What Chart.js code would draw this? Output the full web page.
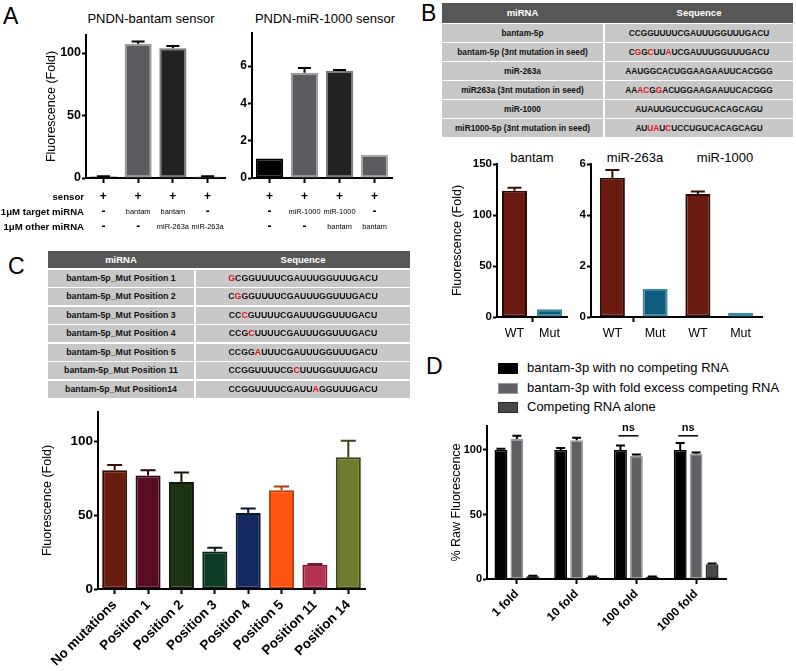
<!DOCTYPE html>
<html><head><meta charset="utf-8">
<script src="https://cdn.jsdelivr.net/npm/chart.js@4.4.1/dist/chart.umd.min.js"></script>
<style>
html,body{margin:0;padding:0;background:#fff;}
#fig{position:relative;width:796px;height:671px;overflow:hidden;font-family:"Liberation Sans",Arial,sans-serif;color:#000;}
canvas{position:absolute;}
.letter{position:absolute;font-size:23px;line-height:1;}
.ttl{position:absolute;width:200px;text-align:center;font-size:13px;line-height:16px;white-space:nowrap;}
.cell{position:absolute;background:#c8c8c8;text-align:center;font-weight:bold;color:#111;white-space:nowrap;overflow:hidden;}
.hdr{position:absolute;background:#575757;}
.htxt{position:absolute;color:#fff;font-weight:bold;text-align:center;}
.red{color:#e3121b;}
.leg{position:absolute;font-size:13px;line-height:16px;white-space:nowrap;}
.sw{position:absolute;width:18px;height:9px;}
</style></head>
<body><div id="fig"></div>
<script>
// ---------------- DATA ----------------
const aCategories = ['sensor', 'sensor + target', 'sensor + target + other', 'sensor + other'];
const aRowLabels = ['sensor', '1μM target miRNA', '1μM other miRNA'];
const aBantamValues = [1.2, 107.5, 103.8, 1.2];
const aBantamErrors = [1.5, 109.2, 105.6, 1.5];
const aBantamTicks = [0, 50, 100];
const aBantamRows = [['+', '+', '+', '+'], ['-', 'bantam', 'bantam', '-'], ['-', '-', 'miR-263a', 'miR-263a']];
const aMir1000Values = [1.05, 5.65, 5.75, 1.25];
const aMir1000Errors = [1.05, 5.9, 5.8, 1.25];
const aMir1000Ticks = [0, 2, 4, 6];
const aMir1000Rows = [['+', '+', '+', '+'], ['-', 'miR-1000', 'miR-1000', '-'], ['-', '-', 'bantam', 'bantam']];

const tableBNames = ['bantam-5p', 'bantam-5p (3nt mutation in seed)', 'miR-263a', 'miR263a (3nt mutation in seed)', 'miR-1000', 'miR1000-5p (3nt mutation in seed)'];
const tableBSeqs = ['CCGGUUUUCGAUUUGGUUUGACU', 'CGGCUUAUCGAUUUGGUUUGACU', 'AAUGGCACUGGAAGAAUUCACGGG', 'AAACGGACUGGAAGAAUUCACGGG', 'AUAUUGUCCUGUCACAGCAGU', 'AUUAUCUCCUGUCACAGCAGU'];
const tableBRed = [[], [1, 3, 6], [], [2, 3, 5], [], [2, 3, 5]];

const bBantamCats = ['WT', 'Mut'];
const bBantamValues = [123.8, 7.5];
const bBantamErrors = [126.8, 7.5];
const bBantamTicks = [0, 50, 100, 150];
const bOtherCats = ['WT', 'Mut', 'WT', 'Mut'];
const bOtherValues = [5.46, 1.1, 4.82, 0.17];
const bOtherErrors = [5.76, 1.1, 4.92, 0.17];
const bOtherTicks = [0, 2, 4, 6];
const bTitles = ['bantam', 'miR-263a', 'miR-1000'];

const tableCNames = ['bantam-5p_Mut Position 1', 'bantam-5p_Mut Position 2', 'bantam-5p_Mut Position 3', 'bantam-5p_Mut Position 4', 'bantam-5p_Mut Position 5', 'bantam-5p_Mut Position 11', 'bantam-5p_Mut Position14'];
const tableCSeqs = ['GCGGUUUUCGAUUUGGUUUGACU', 'CGGGUUUUCGAUUUGGUUUGACU', 'CCCGUUUUCGAUUUGGUUUGACU', 'CCGCUUUUCGAUUUGGUUUGACU', 'CCGGAUUUCGAUUUGGUUUGACU', 'CCGGUUUUCGCUUUGGUUUGACU', 'CCGGUUUUCGAUUAGGUUUGACU'];
const tableCRed = [[0], [1], [2], [3], [4], [10], [13]];

const cCats = ['No mutations', 'Position 1', 'Position 2', 'Position 3', 'Position 4', 'Position 5', 'Position 11', 'Position 14'];
const cValues = [80.5, 77, 72.6, 25.4, 51.6, 67, 16.5, 89.3];
const cErrors = [84, 80.5, 79, 28, 54.5, 69.5, 17, 100.5];
const cTicks = [0, 50, 100];

const dCats = ['1 fold', '10 fold', '100 fold', '1000 fold'];
const dSeriesNames = ['bantam-3p with no competing RNA', 'bantam-3p with fold excess competing RNA', 'Competing RNA alone'];
const dNoCompeting = [100, 100, 100, 100];
const dNoCompetingErr = [101, 101.5, 103.5, 105.5];
const dExcess = [108.5, 107.5, 95.5, 97];
const dExcessErr = [111, 109.5, 96.5, 98];
const dAlone = [2.2, 1.8, 1.8, 11.5];
const dAloneErr = [2.6, 2, 2, 12];
const dTicks = [0, 50, 100];
const dNsGroups = [2, 3];

// ---------------- HELPERS ----------------
const FONT = '"Liberation Sans", Arial, sans-serif';
const fig = document.getElementById('fig');
function el(cls, css, html) {
  const d = document.createElement('div');
  d.className = cls; Object.assign(d.style, css); d.innerHTML = html; fig.appendChild(d); return d;
}
function addCanvas(x, y, w, h) {
  const c = document.createElement('canvas');
  c.width = w; c.height = h; c.style.left = x + 'px'; c.style.top = y + 'px';
  c.style.width = w + 'px'; c.style.height = h + 'px';
  fig.appendChild(c); return c;
}
function seqHTML(seq, red) {
  return seq.split('').map((ch, i) => red.includes(i) ? '<span class="red">' + ch + '</span>' : ch).join('');
}

const errorBarPlugin = {
  id: 'errorBars',
  afterDatasetsDraw(chart) {
    const ctx = chart.ctx, y = chart.scales.y;
    chart.data.datasets.forEach((ds, di) => {
      if (!ds.errUp) return;
      const meta = chart.getDatasetMeta(di);
      meta.data.forEach((bar, i) => {
        const v = ds.data[i], e = ds.errUp[i];
        if (e == null || e <= v) return;
        const col = Array.isArray(ds.errColor) ? ds.errColor[i] : ds.errColor;
        const yTop = y.getPixelForValue(e);
        const cap = ds.errCap;
        ctx.save(); ctx.strokeStyle = col; ctx.lineWidth = ds.errWidth || 2;
        ctx.beginPath();
        ctx.moveTo(bar.x, bar.y); ctx.lineTo(bar.x, yTop);
        ctx.moveTo(bar.x - cap / 2, yTop); ctx.lineTo(bar.x + cap / 2, yTop);
        ctx.stroke(); ctx.restore();
      });
    });
  }
};
const condRowsPlugin = {
  id: 'condRows',
  afterDraw(chart, args, opts) {
    if (!opts || !opts.rows) return;
    const ctx = chart.ctx, x = chart.scales.x;
    ctx.save(); ctx.fillStyle = '#000'; ctx.textBaseline = 'middle';
    opts.rows.forEach((row, r) => {
      const yy = opts.rowY[r];
      if (opts.labels) {
        ctx.font = 'bold 9.6px ' + FONT; ctx.textAlign = 'right';
        ctx.fillText(opts.labels[r], opts.labelX, yy);
      }
      ctx.textAlign = 'center';
      row.forEach((t, i) => {
        const sym = (t === '+' || t === '-');
        ctx.font = sym ? 'bold 12px ' + FONT : '7.4px ' + FONT;
        ctx.fillText(t, x.getPixelForValue(i), yy);
      });
    });
    ctx.restore();
  }
};
const nsPlugin = {
  id: 'nsMarks',
  afterDatasetsDraw(chart, args, opts) {
    if (!opts || !opts.groups) return;
    const ctx = chart.ctx, y = chart.scales.y;
    const m0 = chart.getDatasetMeta(0), m1 = chart.getDatasetMeta(1);
    const yy = y.getPixelForValue(opts.level);
    ctx.save(); ctx.strokeStyle = '#000'; ctx.lineWidth = 1.5; ctx.fillStyle = '#000';
    ctx.font = 'bold 11px ' + FONT; ctx.textAlign = 'center'; ctx.textBaseline = 'bottom';
    opts.groups.forEach(g => {
      const x1 = m0.data[g].x - 2, x2 = m1.data[g].x + 2;
      ctx.beginPath(); ctx.moveTo(x1, yy); ctx.lineTo(x2, yy); ctx.stroke();
      ctx.fillText(opts.text, (x1 + x2) / 2, yy - 2);
    });
    ctx.restore();
  }
};

function makeBar(o) {
  const cv = addCanvas(o.x, o.y, o.w, o.h);
  return new Chart(cv, {
    type: 'bar',
    data: { labels: o.labels, datasets: o.datasets },
    options: {
      responsive: false, animation: false, devicePixelRatio: 1,
      layout: { padding: o.pad },
      plugins: {
        legend: { display: false }, tooltip: { enabled: false }, title: { display: false },
        condRows: o.condRows || {}, nsMarks: o.ns || {}
      },
      scales: {
        x: {
          type: 'category', offset: true, z: 1,
          border: { display: true, color: '#000', width: 2 },
          grid: { display: true, drawOnChartArea: false, drawTicks: true, tickLength: 5, tickWidth: 2,
                  tickColor: o.xTickColor || '#000', color: '#000', offset: !!o.xGridOffset },
          ticks: o.xTicks || { display: false },
          afterFit: s => { s.height = o.xHeight; }
        },
        y: {
          type: 'linear', min: 0, max: o.yMax, z: 1,
          border: { display: true, color: '#000', width: 2 },
          grid: { display: true, drawOnChartArea: false, drawTicks: true, tickLength: 4, tickWidth: 2, tickColor: '#000', color: '#000' },
          ticks: { color: '#000', padding: 1, font: { family: FONT, weight: 'bold', size: o.yFont } },
          afterBuildTicks: s => { s.ticks = o.yTicks.map(v => ({ value: v })); },
          title: o.yTitle ? { display: true, text: o.yTitle, color: '#000', font: { family: FONT, size: 12.5 }, padding: { top: o.yTitlePad, bottom: 0 } } : { display: false },
          afterFit: s => { s.width = o.yWidth; }
        }
      }
    },
    plugins: [errorBarPlugin, condRowsPlugin, nsPlugin]
  });
}

// ---------------- PANEL LETTERS & TITLES ----------------
el('letter', { left: '3px', top: '5px' }, 'A');
el('letter', { left: '421px', top: '2px' }, 'B');
el('letter', { left: '8px', top: '255px' }, 'C');
el('letter', { left: '426px', top: '355px' }, 'D');
el('ttl', { left: (151 - 100) + 'px', top: '11px' }, 'PNDN-bantam sensor');
el('ttl', { left: (325 - 100) + 'px', top: '11px' }, 'PNDN-miR-1000 sensor');
[532, 635, 725].forEach((cx, i) => el('ttl', { left: (cx - 100) + 'px', top: '150px' }, bTitles[i]));

// ---------------- PANEL A ----------------
makeBar({
  x: 0, y: 25, w: 235, h: 215, pad: { left: 0, top: 10, right: 10, bottom: 52 },
  labels: aCategories, yMax: 114.4, yTicks: aBantamTicks, yFont: 12.5, yWidth: 86, xHeight: 10,
  yTitle: 'Fluorescence (Fold)', yTitlePad: 44.5,
  datasets: [{
    data: aBantamValues, errUp: aBantamErrors, errColor: '#000', errCap: 13,
    backgroundColor: ['#000000', '#5c5c60', '#222222', '#6a6a6c'],
    borderColor: ['#000000', '#9b9b9b', '#7a7a7a', '#a0a0a0'],
    borderWidth: 2, borderSkipped: false, barPercentage: 0.78, categoryPercentage: 1
  }],
  condRows: { rows: aBantamRows, labels: aRowLabels, labelX: 84, rowY: [172, 187, 202] }
});
makeBar({
  x: 225, y: 25, w: 175, h: 215, pad: { left: 0, top: 8, right: 8, bottom: 52 },
  labels: aCategories, yMax: 7.77, yTicks: aMir1000Ticks, yFont: 12, yWidth: 27, xHeight: 10,
  datasets: [{
    data: aMir1000Values, errUp: aMir1000Errors, errColor: '#000', errCap: 13,
    backgroundColor: ['#000000', '#5c5c60', '#222222', '#5c5c60'],
    borderColor: ['#000000', '#9b9b9b', '#7a7a7a', '#a8a8a8'],
    borderWidth: 2, borderSkipped: false, barPercentage: 0.78, categoryPercentage: 1
  }],
  condRows: { rows: aMir1000Rows, rowY: [172, 187, 202] }
});

// ---------------- TABLE B ----------------
el('hdr', { left: '442px', top: '3px', width: '351px', height: '20px' }, '');
el('htxt', { left: '442px', top: '3px', width: '161px', height: '20px', lineHeight: '20px', fontSize: '9.5px' }, 'miRNA');
el('htxt', { left: '605px', top: '3px', width: '188px', height: '20px', lineHeight: '20px', fontSize: '9.5px' }, 'Sequence');
tableBNames.forEach((n, i) => {
  const top = 24 + i * 19;
  el('cell', { left: '442px', top: top + 'px', width: '161px', height: '18px', lineHeight: '18px', fontSize: '8.3px' }, n);
  el('cell', { left: '605px', top: top + 'px', width: '188px', height: '18px', lineHeight: '18px', fontSize: '8.3px' }, seqHTML(tableBSeqs[i], tableBRed[i]));
});

// ---------------- PANEL B ----------------
const bTickColor = ctx => ctx.index === 1 ? '#000' : 'rgba(0,0,0,0)';
const bXTicks = { display: true, color: '#000', padding: 4.5, font: { family: FONT, size: 12.5 }, autoSkip: false, maxRotation: 0 };
makeBar({
  x: 420, y: 145, w: 155, h: 200, pad: { left: 0, top: 19, right: 8, bottom: 0 },
  labels: bBantamCats, yMax: 150, yTicks: bBantamTicks, yFont: 11.5, yWidth: 77, xHeight: 28,
  yTitle: 'Fluorescence (Fold)', yTitlePad: 30.5, xGridOffset: true, xTickColor: bTickColor, xTicks: bXTicks,
  datasets: [{
    data: bBantamValues, errUp: bBantamErrors, errColor: '#3a0c06', errCap: 14,
    backgroundColor: ['#6b1a10', '#0f5b7b'], borderColor: ['#2e0905', '#3d88a2'],
    borderWidth: 2, borderSkipped: false, barPercentage: 0.714, categoryPercentage: 1
  }]
});
makeBar({
  x: 575, y: 145, w: 200, h: 200, pad: { left: 0, top: 19, right: 13, bottom: 0 },
  labels: bOtherCats, yMax: 6, yTicks: bOtherTicks, yFont: 11.5, yWidth: 16, xHeight: 28,
  xGridOffset: true, xTickColor: bTickColor, xTicks: bXTicks,
  datasets: [{
    data: bOtherValues, errUp: bOtherErrors, errColor: '#3a0c06', errCap: 14,
    backgroundColor: ['#6b1a10', '#0f5b7b', '#6b1a10', '#0f5b7b'], borderColor: ['#2e0905', '#3d88a2', '#2e0905', '#3d88a2'],
    borderWidth: 2, borderSkipped: false, barPercentage: 0.585, categoryPercentage: 1
  }]
});

// ---------------- TABLE C ----------------
el('hdr', { left: '48px', top: '251px', width: '362px', height: '17px' }, '');
el('htxt', { left: '48px', top: '251px', width: '146px', height: '17px', lineHeight: '17px', fontSize: '9.5px' }, 'miRNA');
el('htxt', { left: '196px', top: '251px', width: '214px', height: '17px', lineHeight: '17px', fontSize: '9.5px' }, 'Sequence');
tableCNames.forEach((n, i) => {
  const top = 269.5 + i * 18.5;
  el('cell', { left: '48px', top: top + 'px', width: '146px', height: '17px', lineHeight: '17px', fontSize: '8.8px' }, n);
  el('cell', { left: '196px', top: top + 'px', width: '214px', height: '17px', lineHeight: '17px', fontSize: '8.8px' }, seqHTML(tableCSeqs[i], tableCRed[i]));
});

// ---------------- PANEL C ----------------
const cFill = ['#6a1c0e', '#5a0c22', '#1d3210', '#0c3b25', '#12285e', '#ff5310', '#b2324f', '#6d7b2c'];
const cLine = ['#3a0e05', '#2c0510', '#0d1a05', '#05200f', '#081535', '#b83a08', '#7a1a30', '#3a4512'];
makeBar({
  x: 0, y: 400, w: 380, h: 271, pad: { left: 0, top: 12, right: 15, bottom: 0 },
  labels: cCats, yMax: 120, yTicks: cTicks, yFont: 13.5, yWidth: 98, xHeight: 82,
  yTitle: 'Fluorescence (Fold)', yTitlePad: 40.5,
  xTicks: { display: true, color: '#000', padding: 3, autoSkip: false, minRotation: 45, maxRotation: 45, font: { family: FONT, size: 13.5, weight: 'bold' } },
  datasets: [{
    data: cValues, errUp: cErrors, errColor: cLine, errCap: 15,
    backgroundColor: cFill, borderColor: cLine,
    borderWidth: 2, borderSkipped: false, barPercentage: 0.75, categoryPercentage: 1
  }]
});

// ---------------- PANEL D ----------------
const dFill = ['#000000', '#616165', '#474747'];
const dLine = ['#000000', '#9c9c9c', '#262626'];
[363, 383, 402].forEach((t, i) => {
  el('sw', { left: '498px', top: t + 'px', background: dFill[i], border: '1px solid ' + dLine[i] }, '');
  el('leg', { left: '527px', top: (t - 3) + 'px' }, dSeriesNames[i]);
});
makeBar({
  x: 430, y: 415, w: 310, h: 256, pad: { left: 0, top: 11, right: 14, bottom: 0 },
  labels: dCats, yMax: 118.6, yTicks: dTicks, yFont: 11, yWidth: 57, xHeight: 92,
  yTitle: '% Raw Fluorescence', yTitlePad: 19.5,
  xTicks: { display: true, color: '#000', padding: 3, autoSkip: false, minRotation: 45, maxRotation: 45, font: { family: FONT, size: 12, weight: 'bold' } },
  ns: { groups: dNsGroups, level: 111, text: 'ns' },
  datasets: [
    { label: dSeriesNames[0], data: dNoCompeting, errUp: dNoCompetingErr, errColor: '#000', errCap: 9,
      backgroundColor: dFill[0], borderColor: dLine[0], borderWidth: 1.5, borderSkipped: false, barPercentage: 0.81, categoryPercentage: 0.8 },
    { label: dSeriesNames[1], data: dExcess, errUp: dExcessErr, errColor: '#000', errCap: 9,
      backgroundColor: dFill[1], borderColor: dLine[1], borderWidth: 1.5, borderSkipped: false, barPercentage: 0.81, categoryPercentage: 0.8 },
    { label: dSeriesNames[2], data: dAlone, errUp: dAloneErr, errColor: '#000', errCap: 9,
      backgroundColor: dFill[2], borderColor: dLine[2], borderWidth: 1.5, borderSkipped: false, barPercentage: 0.81, categoryPercentage: 0.8 }
  ]
});
</script>
</body></html>
